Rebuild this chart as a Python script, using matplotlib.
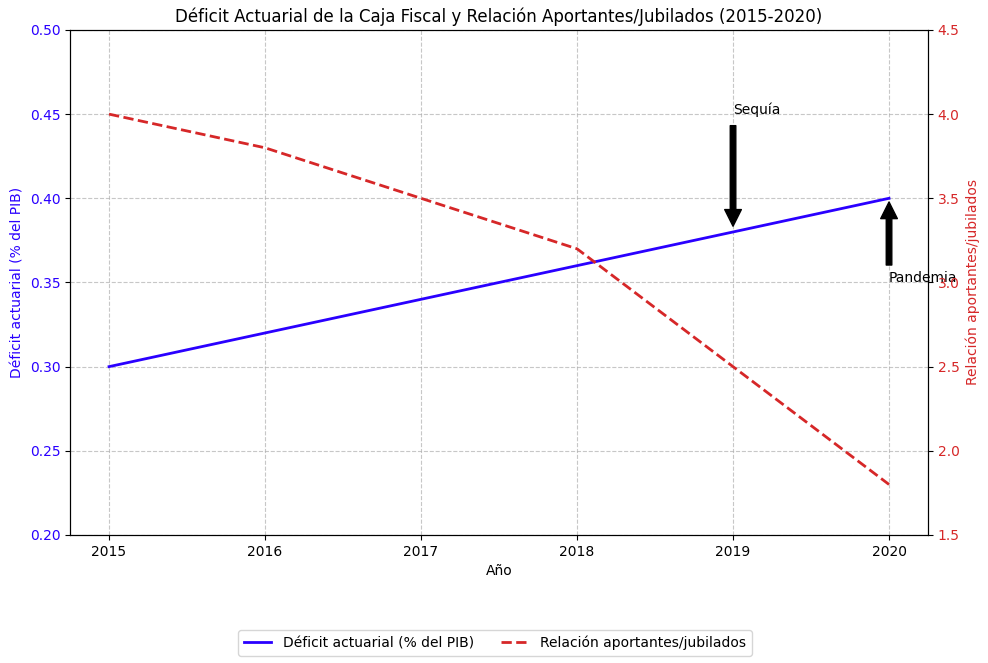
import matplotlib
matplotlib.use("Agg")
import matplotlib.pyplot as plt

years = [2015, 2016, 2017, 2018, 2019, 2020]
deficit = [0.30, 0.32, 0.34, 0.36, 0.38, 0.40]
ratio = [4.0, 3.8, 3.5, 3.2, 2.5, 1.8]

blue = '#2a00ff'
red = '#d62728'

fig = plt.figure(figsize=(9.88, 6.63), dpi=100)
ax1 = fig.add_axes([0.0709, 0.1931, 0.8684, 0.7617])
l1, = ax1.plot(years, deficit, color=blue, linewidth=2, label='Déficit actuarial (% del PIB)')
ax1.set_ylim(0.20, 0.50)
ax1.set_xlabel('Año')
ax1.set_ylabel('Déficit actuarial (% del PIB)', color=blue)
ax1.tick_params(axis='y', labelcolor=blue)
ax1.grid(True, linestyle='--', alpha=0.7)

ax2 = ax1.twinx()
l2, = ax2.plot(years, ratio, color=red, linestyle='--', linewidth=2, label='Relación aportantes/jubilados')
ax2.set_ylim(1.5, 4.5)
ax2.set_ylabel('Relación aportantes/jubilados', color=red)
ax2.tick_params(axis='y', labelcolor=red)

ax1.set_title('Déficit Actuarial de la Caja Fiscal y Relación Aportantes/Jubilados (2015-2020)')

ax1.annotate('Sequía', xy=(2019, 0.38), xytext=(2019, 0.45),
             arrowprops=dict(facecolor='black', shrink=0.05))
ax1.annotate('Pandemia', xy=(2020, 0.40), xytext=(2020, 0.35),
             arrowprops=dict(facecolor='black', shrink=0.05))

fig.legend([l1, l2], [l1.get_label(), l2.get_label()], loc='center',
           bbox_to_anchor=(0.501, 0.030), ncol=2)

fig.savefig('out.png', dpi=100)
